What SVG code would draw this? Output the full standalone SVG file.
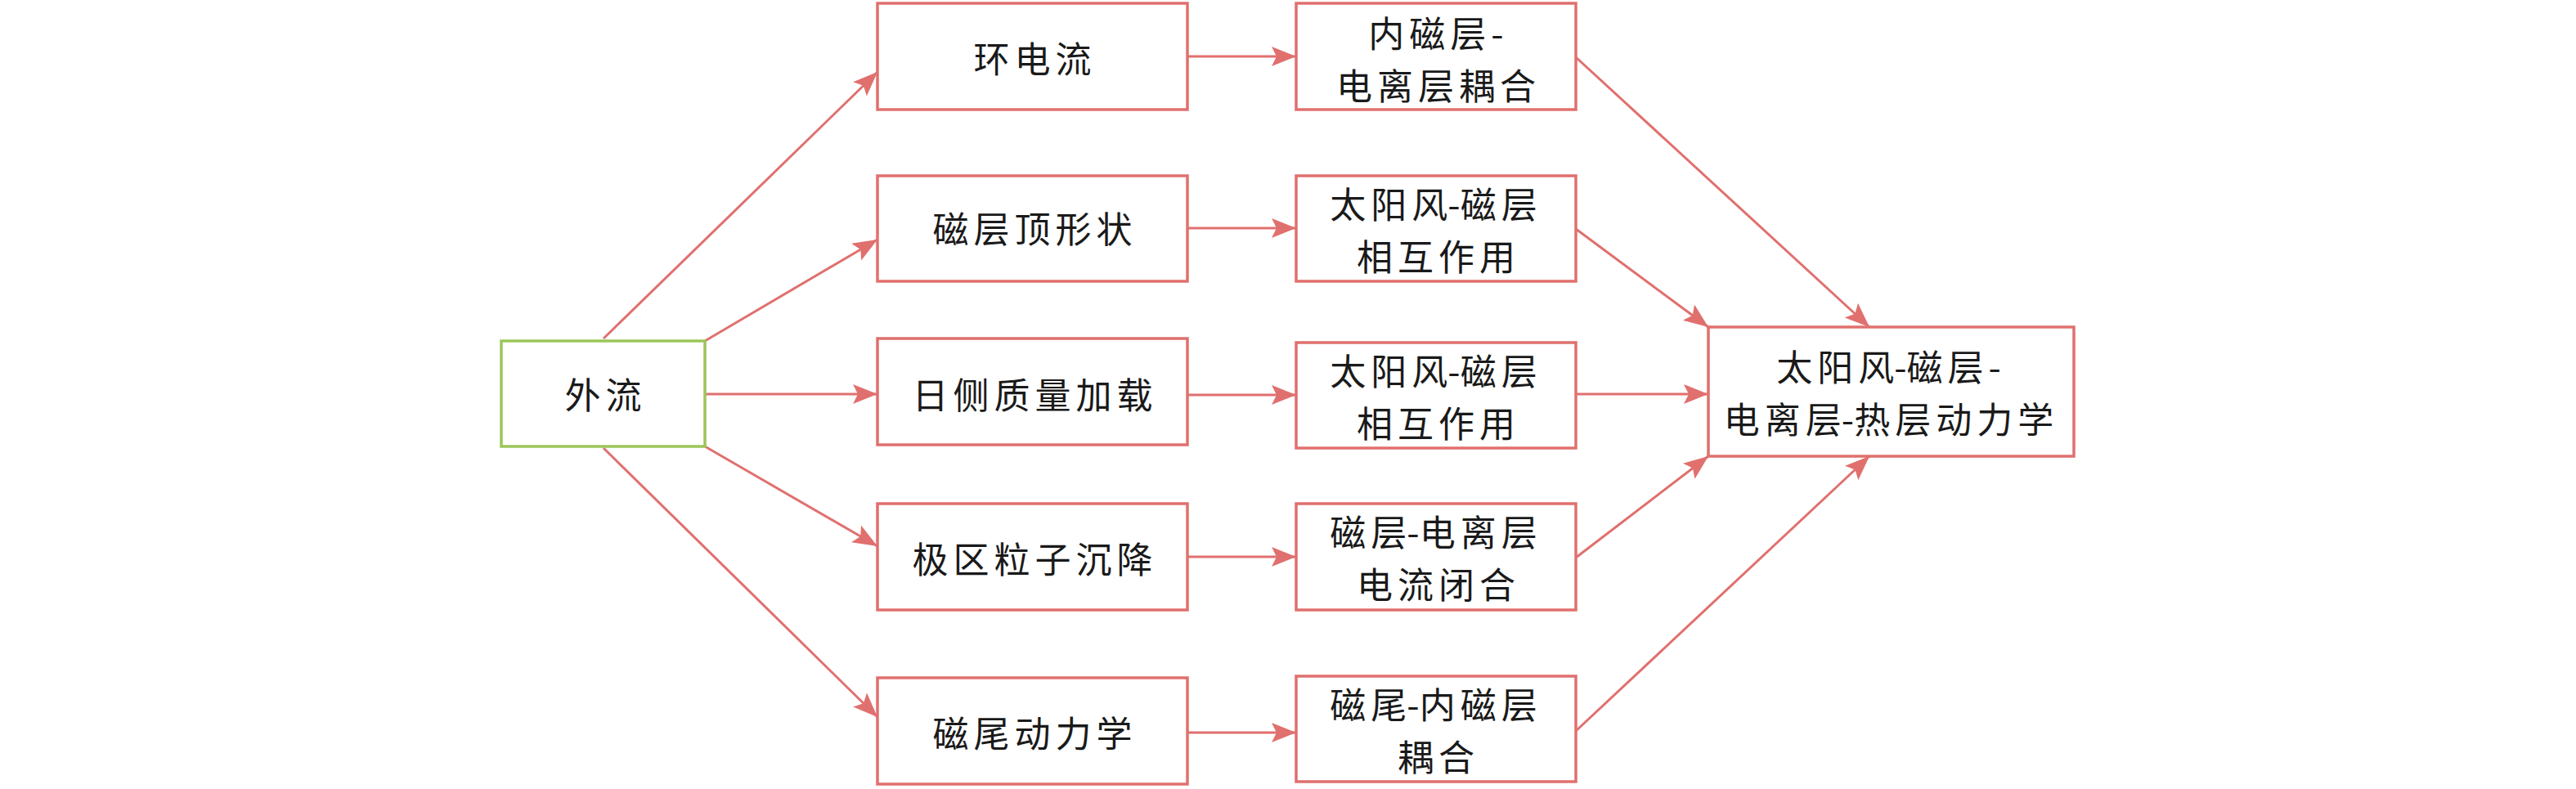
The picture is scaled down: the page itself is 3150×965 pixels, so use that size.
<svg xmlns="http://www.w3.org/2000/svg" width="3150" height="965" viewBox="0 0 3150 965">
<style>
.box{fill:#ffffff;stroke:#E0706E;stroke-width:3.5}
.src{fill:#ffffff;stroke:#9CC65A;stroke-width:3.5}
.lbl{font-family:"Noto Sans CJK SC","Liberation Serif",serif;font-size:44px;letter-spacing:6px;fill:#1a1a1a;text-anchor:middle;dominant-baseline:central}
.hy{letter-spacing:0px}
.con{stroke:#E0706E;stroke-width:3;fill:none;marker-end:url(#ah)}
</style>
<defs>
<marker id="ah" markerUnits="userSpaceOnUse" markerWidth="32" markerHeight="26" refX="30" refY="12" orient="auto">
<path d="M0,0 L30,12 L0,24 L6,12 z" fill="#E0706E"/>
</marker>
</defs>
<rect width="3150" height="965" fill="#ffffff"/>
<g id="connectors">
<line class="con" x1="738" y1="414" x2="1073" y2="88"/>
<line class="con" x1="862" y1="417" x2="1073" y2="293"/>
<line class="con" x1="862" y1="482" x2="1073" y2="482"/>
<line class="con" x1="862" y1="546" x2="1073" y2="668"/>
<line class="con" x1="738" y1="548" x2="1073" y2="877"/>
<line class="con" x1="1452" y1="69" x2="1585" y2="69"/>
<line class="con" x1="1452" y1="279" x2="1585" y2="279"/>
<line class="con" x1="1452" y1="483" x2="1585" y2="483"/>
<line class="con" x1="1452" y1="681" x2="1585" y2="681"/>
<line class="con" x1="1452" y1="896" x2="1585" y2="896"/>
<line class="con" x1="1927" y1="70" x2="2286" y2="400"/>
<line class="con" x1="1927" y1="280" x2="2089" y2="400"/>
<line class="con" x1="1927" y1="482" x2="2089" y2="482"/>
<line class="con" x1="1927" y1="682" x2="2089" y2="558"/>
<line class="con" x1="1927" y1="894" x2="2286" y2="558"/>
</g>
<g id="wailiu">
<rect class="src" x="613" y="417" width="249" height="129"/>
<text class="lbl" x="740.5" y="481">外流</text>
</g>
<g id="huandianliu">
<rect class="box" x="1073" y="4" width="379" height="130"/>
<text class="lbl" x="1265.5" y="70">环电流</text>
</g>
<g id="cicengdingxingzhuang">
<rect class="box" x="1073" y="215" width="379" height="129"/>
<text class="lbl" x="1265.5" y="278">磁层顶形状</text>
</g>
<g id="riceizhiliangjiazai">
<rect class="box" x="1073" y="414" width="379" height="130"/>
<text class="lbl" x="1265.5" y="481">日侧质量加载</text>
</g>
<g id="jiquliziche">
<rect class="box" x="1073" y="616" width="379" height="130"/>
<text class="lbl" x="1265.5" y="682">极区粒子沉降</text>
</g>
<g id="ciweidonglixue">
<rect class="box" x="1073" y="829" width="379" height="130"/>
<text class="lbl" x="1265.5" y="895">磁尾动力学</text>
</g>
<g id="neiciceng">
<rect class="box" x="1585" y="4" width="342" height="130"/>
<text class="lbl" x="1759" y="39">内磁层-</text>
<text class="lbl" x="1759" y="103">电离层耦合</text>
</g>
<g id="taiyangfeng1">
<rect class="box" x="1585" y="215" width="342" height="129"/>
<text class="lbl" x="1756" y="248">太阳<tspan class="hy">风-</tspan>磁层</text>
<text class="lbl" x="1759" y="312">相互作用</text>
</g>
<g id="taiyangfeng2">
<rect class="box" x="1585" y="419" width="342" height="129"/>
<text class="lbl" x="1756" y="452">太阳<tspan class="hy">风-</tspan>磁层</text>
<text class="lbl" x="1759" y="516">相互作用</text>
</g>
<g id="cicengdianliceng">
<rect class="box" x="1585" y="616" width="342" height="130"/>
<text class="lbl" x="1756" y="649">磁<tspan class="hy">层-</tspan>电离层</text>
<text class="lbl" x="1759" y="713">电流闭合</text>
</g>
<g id="ciweineiciceng">
<rect class="box" x="1585" y="827" width="342" height="129"/>
<text class="lbl" x="1756" y="860">磁<tspan class="hy">尾-</tspan>内磁层</text>
<text class="lbl" x="1759" y="924">耦合</text>
</g>
<g id="final">
<rect class="box" x="2089" y="400" width="447" height="158"/>
<text class="lbl" x="2312.5" y="447">太阳<tspan class="hy">风-</tspan>磁层-</text>
<text class="lbl" x="2312.5" y="511">电离<tspan class="hy">层-</tspan>热层动力学</text>
</g>
</svg>
